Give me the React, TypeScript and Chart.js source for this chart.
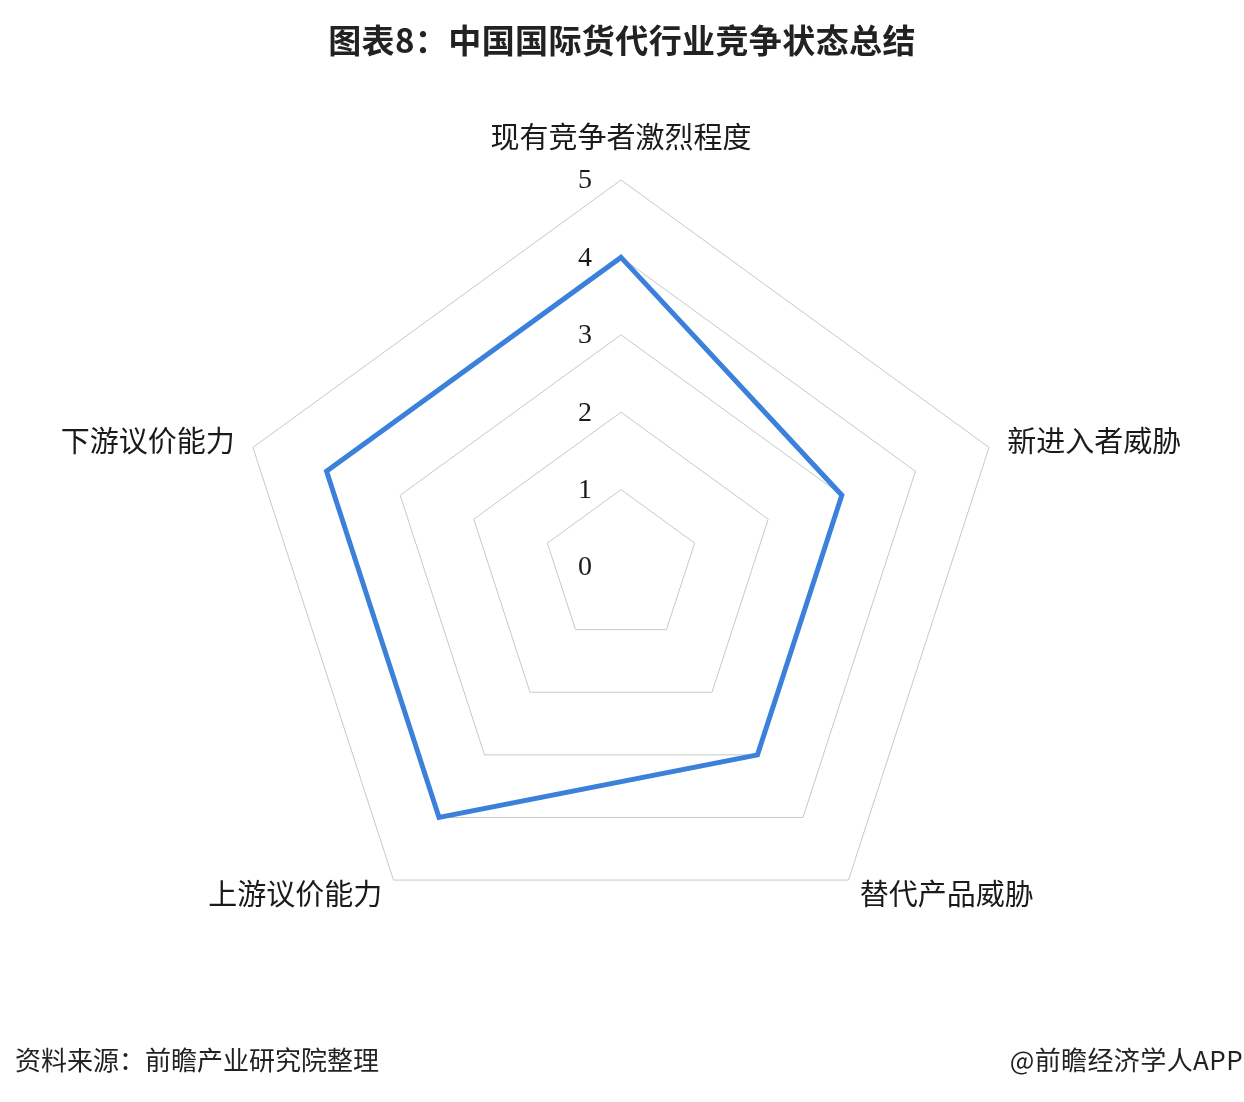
import React, { useEffect, useRef } from "react";
import { Chart, registerables } from "chart.js";

Chart.register(...registerables);

const categories = ["现有竞争者激烈程度", "新进入者威胁", "替代产品威胁", "上游议价能力", "下游议价能力"];
const seriesValues = [4, 3, 3, 4, 4];
const tickLabels = [0, 1, 2, 3, 4, 5];
const titleText = "图表8：中国国际货代行业竞争状态总结";
const sourceText = "资料来源：前瞻产业研究院整理";
const brandText = "@前瞻经济学人APP";

const CJK = '"Noto Sans CJK SC", "Noto Sans", sans-serif';

const labelPlugin = {
  id: "customLabels",
  afterDraw(chart: any) {
    const scale = chart.scales.r;
    const ctx = chart.ctx;
    ctx.save();
    // tick labels
    ctx.font = '28px "Liberation Serif", "DejaVu Serif", serif';
    ctx.fillStyle = "#1a1a1a";
    ctx.textAlign = "center";
    ctx.textBaseline = "middle";
    tickLabels.forEach((v) => {
      const d = scale.getDistanceFromCenterForValue(v);
      ctx.fillText(String(v), scale.xCenter - 36, scale.yCenter - d + 1);
    });
    // point labels
    ctx.font = "29px " + CJK;
    ctx.fillStyle = "#1a1a1a";
    const r = scale.drawingArea;
    categories.forEach((label, i) => {
      if (i === 0) {
        const p = scale.getPointPosition(i, r + 43);
        ctx.textAlign = "center";
        ctx.fillText(label, p.x, p.y);
      } else {
        const p = scale.getPointPosition(i, r + 19);
        ctx.textAlign = p.x > scale.xCenter ? "left" : "right";
        ctx.fillText(label, p.x, p.y - 1);
      }
    });
    ctx.restore();
  },
};

export default function App() {
  const ref = useRef<HTMLCanvasElement | null>(null);
  useEffect(() => {
    if (!ref.current) return;
    const chart = new Chart(ref.current, {
      type: "radar",
      data: {
        labels: categories,
        datasets: [
          {
            data: seriesValues,
            borderColor: "#3b80da",
            borderWidth: 5,
            backgroundColor: "rgba(0,0,0,0)",
            fill: false,
            pointRadius: 0,
            pointHoverRadius: 0,
            tension: 0,
          },
        ],
      },
      options: {
        responsive: false,
        animation: false,
        layout: { padding: { left: 234, right: 236, top: 180, bottom: 148 } },
        plugins: {
          legend: { display: false },
          title: { display: false },
          tooltip: { enabled: false },
        },
        scales: {
          r: {
            min: 0,
            max: 5,
            ticks: { stepSize: 1, display: false },
            grid: { color: "#c8c8c8", lineWidth: 1, circular: false },
            angleLines: { display: false },
            pointLabels: { display: false },
          },
        },
      },
      plugins: [labelPlugin],
    });
    return () => chart.destroy();
  }, []);

  return (
    <div style={{ position: "absolute", left: 0, top: 0, width: 1244, height: 1102, background: "#ffffff", overflow: "hidden" }}>
      <canvas ref={ref} width={1244} height={1102} style={{ position: "absolute", left: 0, top: 0 }} />
      <div
        style={{
          position: "absolute",
          left: 0,
          top: 21,
          width: 1244,
          textAlign: "center",
          font: "bold 33px " + CJK,
          lineHeight: "36px",
          color: "#222",
          letterSpacing: 0.4,
        }}
      >
        {titleText}
      </div>
      <div
        style={{
          position: "absolute",
          left: 15,
          top: 1045,
          font: "26px " + CJK,
          lineHeight: "28px",
          color: "#222",
        }}
      >
        {sourceText}
      </div>
      <div
        style={{
          position: "absolute",
          right: 1,
          top: 1045,
          font: "26px " + CJK,
          lineHeight: "28px",
          color: "#222",
          letterSpacing: 0.4,
        }}
      >
        {brandText}
      </div>
    </div>
  );
}
